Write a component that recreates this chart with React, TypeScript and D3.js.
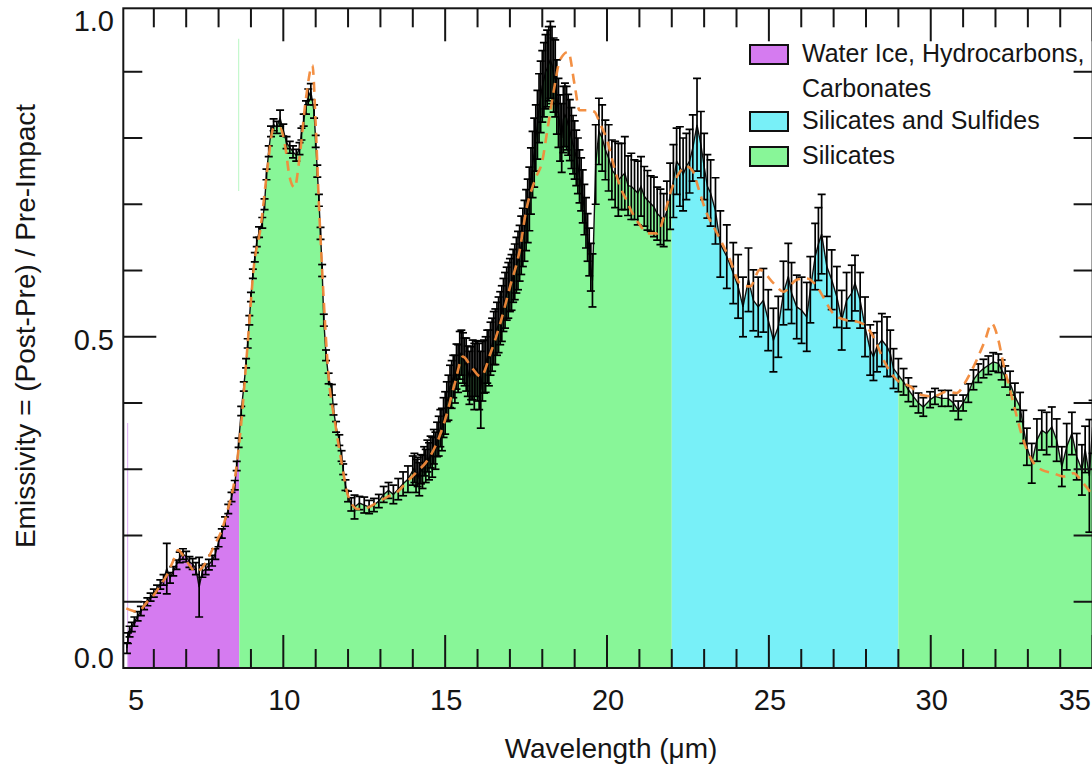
import React from 'react';
import * as d3 from 'd3';

type Pt = [number, number, number];

// [wavelength (µm), emissivity, 1-sigma error]
const spectrumShort: Pt[] = [
  [5.17, 0.030, 0.008], [5.20, 0.045, 0.008], [5.25, 0.055, 0.008], [5.32, 0.062, 0.007],
  [5.40, 0.070, 0.007], [5.50, 0.078, 0.007], [5.60, 0.086, 0.007], [5.70, 0.094, 0.006],
  [5.80, 0.100, 0.006], [5.90, 0.107, 0.006], [6.00, 0.113, 0.006], [6.10, 0.119, 0.006],
  [6.20, 0.126, 0.007], [6.30, 0.133, 0.008], [6.40, 0.150, 0.038], [6.50, 0.136, 0.008],
  [6.60, 0.146, 0.007], [6.70, 0.156, 0.007], [6.80, 0.167, 0.008], [6.90, 0.172, 0.008],
  [7.00, 0.168, 0.008], [7.10, 0.160, 0.008], [7.20, 0.157, 0.008], [7.30, 0.150, 0.009],
  [7.40, 0.122, 0.045], [7.50, 0.146, 0.009], [7.60, 0.149, 0.008], [7.70, 0.156, 0.008],
  [7.80, 0.162, 0.008], [7.90, 0.172, 0.008], [8.00, 0.190, 0.007], [8.10, 0.203, 0.007],
  [8.20, 0.221, 0.007], [8.30, 0.240, 0.007], [8.40, 0.258, 0.007], [8.50, 0.276, 0.007],
  [8.56, 0.305, 0.007], [8.62, 0.340, 0.007], [8.70, 0.388, 0.007], [8.78, 0.425, 0.007],
  [8.85, 0.460, 0.007], [8.90, 0.490, 0.007], [8.95, 0.525, 0.007], [9.00, 0.560, 0.007],
  [9.06, 0.595, 0.007], [9.12, 0.620, 0.007], [9.18, 0.643, 0.007], [9.25, 0.658, 0.008],
  [9.35, 0.672, 0.008], [9.42, 0.700, 0.008], [9.48, 0.745, 0.008], [9.55, 0.780, 0.008],
  [9.62, 0.810, 0.008], [9.70, 0.820, 0.009], [9.80, 0.816, 0.009], [9.90, 0.830, 0.012],
  [10.00, 0.812, 0.009], [10.10, 0.793, 0.009], [10.20, 0.786, 0.009], [10.30, 0.779, 0.009],
  [10.40, 0.774, 0.009], [10.50, 0.784, 0.009], [10.56, 0.806, 0.009], [10.63, 0.827, 0.009],
  [10.70, 0.846, 0.010], [10.77, 0.862, 0.012], [10.85, 0.870, 0.012], [10.95, 0.840, 0.010],
  [11.00, 0.795, 0.009], [11.05, 0.750, 0.009], [11.10, 0.706, 0.009], [11.15, 0.656, 0.009],
  [11.20, 0.600, 0.009], [11.25, 0.525, 0.009], [11.32, 0.472, 0.008], [11.40, 0.437, 0.008],
  [11.50, 0.420, 0.008], [11.55, 0.390, 0.008], [11.63, 0.364, 0.008], [11.73, 0.344, 0.008],
  [11.80, 0.320, 0.008], [11.85, 0.300, 0.008], [11.92, 0.276, 0.008], [12.00, 0.259, 0.008],
  [12.10, 0.247, 0.010], [12.20, 0.243, 0.018], [12.35, 0.249, 0.010], [12.50, 0.246, 0.012],
  [12.65, 0.243, 0.010], [12.80, 0.246, 0.010], [12.95, 0.252, 0.010], [13.10, 0.262, 0.012],
  [13.25, 0.268, 0.012], [13.40, 0.262, 0.014], [13.55, 0.270, 0.016], [13.70, 0.278, 0.018],
  [13.85, 0.285, 0.020], [14.00, 0.298, 0.022],
];

const spectrumMid: Pt[] = [
  [14.05, 0.302, 0.022], [14.10, 0.290, 0.025], [14.15, 0.296, 0.022], [14.20, 0.285, 0.025],
  [14.25, 0.300, 0.022], [14.30, 0.296, 0.025], [14.35, 0.312, 0.022], [14.40, 0.305, 0.025],
  [14.45, 0.320, 0.024], [14.50, 0.312, 0.028], [14.55, 0.326, 0.024], [14.60, 0.318, 0.030],
  [14.65, 0.334, 0.026], [14.70, 0.328, 0.028], [14.75, 0.345, 0.026], [14.80, 0.350, 0.030],
  [14.85, 0.362, 0.028], [14.90, 0.360, 0.032], [14.95, 0.378, 0.030], [15.00, 0.385, 0.032],
  [15.05, 0.402, 0.030], [15.10, 0.408, 0.034], [15.15, 0.425, 0.032], [15.20, 0.428, 0.036],
  [15.25, 0.440, 0.032], [15.30, 0.436, 0.036], [15.35, 0.455, 0.034], [15.40, 0.452, 0.036],
  [15.45, 0.472, 0.036], [15.50, 0.476, 0.034], [15.55, 0.468, 0.038], [15.60, 0.462, 0.036],
  [15.65, 0.458, 0.040], [15.70, 0.448, 0.038], [15.75, 0.438, 0.040], [15.80, 0.445, 0.040],
  [15.85, 0.450, 0.045], [15.90, 0.440, 0.050], [15.95, 0.452, 0.042], [16.00, 0.448, 0.045],
  [16.05, 0.440, 0.050], [16.10, 0.420, 0.058], [16.15, 0.448, 0.045], [16.20, 0.455, 0.040],
  [16.25, 0.458, 0.042], [16.30, 0.470, 0.040], [16.35, 0.468, 0.042], [16.40, 0.482, 0.040],
  [16.45, 0.488, 0.040], [16.50, 0.498, 0.040], [16.55, 0.500, 0.042], [16.60, 0.512, 0.040],
  [16.65, 0.518, 0.042], [16.70, 0.528, 0.040], [16.75, 0.535, 0.042], [16.80, 0.548, 0.040],
  [16.85, 0.555, 0.042], [16.90, 0.565, 0.040], [16.95, 0.570, 0.042], [17.00, 0.578, 0.040],
  [17.05, 0.582, 0.042], [17.10, 0.592, 0.040], [17.15, 0.598, 0.042], [17.20, 0.608, 0.042],
  [17.25, 0.615, 0.044], [17.30, 0.626, 0.042], [17.35, 0.638, 0.044], [17.40, 0.650, 0.044],
  [17.45, 0.660, 0.046], [17.50, 0.676, 0.046], [17.55, 0.690, 0.048], [17.60, 0.708, 0.048],
  [17.65, 0.735, 0.050], [17.70, 0.760, 0.050], [17.75, 0.778, 0.052], [17.80, 0.800, 0.050],
  [17.85, 0.820, 0.052], [17.90, 0.845, 0.052], [17.95, 0.862, 0.054], [18.00, 0.878, 0.054],
  [18.05, 0.888, 0.056], [18.10, 0.900, 0.056], [18.15, 0.905, 0.058], [18.20, 0.912, 0.056],
  [18.25, 0.918, 0.058], [18.30, 0.910, 0.058], [18.35, 0.895, 0.056], [18.40, 0.890, 0.058],
  [18.45, 0.862, 0.056], [18.50, 0.838, 0.052], [18.55, 0.815, 0.050], [18.60, 0.800, 0.052],
  [18.65, 0.828, 0.050], [18.70, 0.835, 0.048], [18.75, 0.830, 0.048], [18.80, 0.820, 0.046],
  [18.85, 0.812, 0.046], [18.90, 0.800, 0.046], [18.95, 0.790, 0.044], [19.00, 0.782, 0.044],
  [19.05, 0.770, 0.042], [19.10, 0.758, 0.042], [19.15, 0.742, 0.040], [19.20, 0.730, 0.040],
  [19.25, 0.712, 0.040], [19.30, 0.692, 0.038], [19.35, 0.672, 0.038], [19.40, 0.650, 0.036],
  [19.45, 0.628, 0.036], [19.50, 0.605, 0.036], [19.55, 0.585, 0.040],
];

const spectrumLong: Pt[] = [
  [19.65, 0.760, 0.060], [19.75, 0.810, 0.050], [19.85, 0.800, 0.050], [19.95, 0.782, 0.045],
  [20.05, 0.770, 0.050], [20.15, 0.752, 0.045], [20.25, 0.745, 0.050], [20.35, 0.737, 0.055],
  [20.45, 0.742, 0.050], [20.55, 0.747, 0.055], [20.65, 0.728, 0.045], [20.75, 0.727, 0.050],
  [20.85, 0.722, 0.045], [20.95, 0.717, 0.048], [21.05, 0.727, 0.045], [21.15, 0.712, 0.045],
  [21.25, 0.706, 0.045], [21.35, 0.701, 0.042], [21.45, 0.696, 0.045], [21.55, 0.686, 0.040],
  [21.65, 0.681, 0.042], [21.75, 0.676, 0.040], [21.85, 0.690, 0.045], [21.95, 0.712, 0.050],
  [22.05, 0.735, 0.055], [22.15, 0.765, 0.050], [22.25, 0.757, 0.060], [22.35, 0.745, 0.055],
  [22.45, 0.757, 0.050], [22.55, 0.765, 0.048], [22.65, 0.785, 0.050], [22.78, 0.820, 0.070],
  [22.90, 0.790, 0.050], [23.00, 0.757, 0.050], [23.10, 0.727, 0.048], [23.20, 0.717, 0.050],
  [23.35, 0.690, 0.050], [23.50, 0.640, 0.050], [23.70, 0.621, 0.048], [23.90, 0.596, 0.046],
  [24.05, 0.576, 0.048], [24.20, 0.545, 0.045], [24.37, 0.586, 0.048], [24.52, 0.555, 0.046],
  [24.67, 0.545, 0.045], [24.83, 0.555, 0.048], [24.98, 0.525, 0.046], [25.14, 0.495, 0.048],
  [25.29, 0.515, 0.046], [25.45, 0.566, 0.048], [25.60, 0.591, 0.050], [25.70, 0.566, 0.046],
  [25.86, 0.545, 0.048], [26.01, 0.540, 0.050], [26.17, 0.530, 0.052], [26.28, 0.571, 0.050],
  [26.43, 0.621, 0.050], [26.53, 0.640, 0.055], [26.63, 0.655, 0.060], [26.79, 0.606, 0.045],
  [26.94, 0.586, 0.045], [27.10, 0.560, 0.046], [27.25, 0.525, 0.045], [27.40, 0.555, 0.042],
  [27.56, 0.566, 0.042], [27.66, 0.581, 0.042], [27.82, 0.555, 0.042], [27.97, 0.515, 0.045],
  [28.13, 0.480, 0.038], [28.23, 0.470, 0.036], [28.34, 0.485, 0.038], [28.49, 0.495, 0.040],
  [28.65, 0.485, 0.045], [28.75, 0.475, 0.035], [28.85, 0.452, 0.030], [29.00, 0.442, 0.025],
  [29.16, 0.432, 0.020], [29.31, 0.420, 0.018], [29.46, 0.410, 0.015], [29.62, 0.400, 0.015],
  [29.77, 0.394, 0.014], [29.98, 0.405, 0.012], [30.13, 0.410, 0.012], [30.34, 0.407, 0.012],
  [30.54, 0.407, 0.012], [30.70, 0.400, 0.012], [30.85, 0.389, 0.014], [31.00, 0.400, 0.012],
  [31.16, 0.415, 0.014], [31.32, 0.435, 0.015], [31.47, 0.445, 0.014], [31.63, 0.452, 0.014],
  [31.78, 0.457, 0.014], [31.93, 0.462, 0.014], [32.09, 0.460, 0.014], [32.19, 0.450, 0.015],
  [32.30, 0.440, 0.016], [32.45, 0.430, 0.018], [32.60, 0.410, 0.020], [32.76, 0.394, 0.022],
  [32.86, 0.364, 0.025], [32.97, 0.334, 0.028], [33.12, 0.309, 0.030], [33.28, 0.344, 0.032],
  [33.43, 0.359, 0.030], [33.58, 0.354, 0.032], [33.74, 0.364, 0.030], [33.89, 0.344, 0.032],
  [34.05, 0.304, 0.030], [34.20, 0.334, 0.035], [34.36, 0.354, 0.032], [34.51, 0.319, 0.035],
  [34.67, 0.299, 0.038], [34.77, 0.330, 0.035], [34.90, 0.290, 0.085], [35.00, 0.364, 0.040],
];

// model fit [wavelength, emissivity]
const modelCurve: [number, number][] = [
  [5.15, 0.090], [5.5, 0.085], [5.8, 0.100], [6.0, 0.110], [6.2, 0.125], [6.4, 0.140],
  [6.6, 0.162], [6.75, 0.178], [6.9, 0.170], [7.1, 0.155], [7.3, 0.145], [7.5, 0.152],
  [7.7, 0.168], [7.9, 0.188], [8.1, 0.208], [8.3, 0.242], [8.5, 0.285], [8.7, 0.370],
  [8.9, 0.490], [9.1, 0.610], [9.3, 0.665], [9.5, 0.750], [9.7, 0.815], [9.9, 0.815],
  [10.05, 0.790], [10.2, 0.740], [10.35, 0.725], [10.5, 0.770], [10.7, 0.860], [10.9, 0.910],
  [11.0, 0.820], [11.1, 0.700], [11.2, 0.600], [11.4, 0.440], [11.6, 0.370], [11.8, 0.310],
  [12.0, 0.260], [12.3, 0.240], [12.6, 0.242], [12.9, 0.250], [13.2, 0.258], [13.5, 0.265],
  [13.8, 0.280], [14.1, 0.295], [14.4, 0.310], [14.7, 0.335], [15.0, 0.375], [15.3, 0.430],
  [15.55, 0.470], [15.8, 0.455], [16.1, 0.440], [16.4, 0.475], [16.7, 0.520], [17.0, 0.575],
  [17.3, 0.630], [17.5, 0.690], [17.8, 0.740], [18.0, 0.765], [18.15, 0.810], [18.35, 0.870],
  [18.55, 0.918], [18.8, 0.930], [19.0, 0.880], [19.15, 0.842], [19.4, 0.842], [19.6, 0.840],
  [19.8, 0.820], [20.0, 0.797], [20.2, 0.760], [20.4, 0.727], [20.6, 0.706], [20.8, 0.685],
  [21.0, 0.670], [21.25, 0.656], [21.55, 0.656], [21.75, 0.680], [21.95, 0.716], [22.2, 0.745],
  [22.45, 0.757], [22.65, 0.750], [22.85, 0.720], [23.05, 0.690], [23.4, 0.656], [23.8, 0.616],
  [24.1, 0.581], [24.42, 0.576], [24.72, 0.601], [25.14, 0.581], [25.45, 0.568], [25.86, 0.586],
  [26.17, 0.588], [26.48, 0.576], [26.68, 0.560], [26.99, 0.535], [27.4, 0.525], [27.71, 0.523],
  [28.02, 0.515], [28.28, 0.495], [28.54, 0.465], [28.95, 0.435], [29.36, 0.425], [29.72, 0.412],
  [30.08, 0.410], [30.49, 0.417], [30.8, 0.415], [31.11, 0.435], [31.42, 0.465], [31.68, 0.495],
  [31.88, 0.520], [32.09, 0.495], [32.24, 0.460], [32.45, 0.420], [32.66, 0.379], [32.86, 0.344],
  [33.12, 0.314], [33.43, 0.299], [33.79, 0.294], [34.1, 0.289], [34.41, 0.294], [34.71, 0.279],
  [34.95, 0.264],
];

// composition categories and wavelength regions
const legendLabels: string[][] = [['Water Ice, Hydrocarbons,', 'Carbonates'], ['Silicates and Sulfides'], ['Silicates']];
const regionStart = [5.0, 8.64, 22.0, 29.0];
const regionEnd = [8.64, 22.0, 29.0, 35.5];
const regionCategory = [0, 2, 1, 2];
// faint vertical strokes [wavelength, from, to]
const faintStrokes: [number, number, number, number][] = [[5.19, 0.0, 0.37, 0], [8.62, 0.72, 0.95, 2]];

const xMajorTicks = [5, 10, 15, 20, 25, 30, 35];
const xMinorTicks = [6, 7, 8, 9, 11, 12, 13, 14, 16, 17, 18, 19, 21, 22, 23, 24, 26, 27, 28, 29, 31, 32, 33, 34];
const yMajorTicks = [0, 0.5, 1.0];
const yTickLabels = ['0.0', '0.5', '1.0'];
const yMinorTicks = [0.1, 0.2, 0.3, 0.4, 0.6, 0.7, 0.8, 0.9];

const FILL = ['#d57bf0', '#78f0f8', '#88f698'];
const FAINT = ['#e2b8f6', '#bff4fa', '#c4f8cc'];
const FONT = '"Liberation Sans", Arial, Helvetica, sans-serif';
const INK = '#151515';

export default function App() {
  const W = 1092, H = 767;
  const left = 123.3, right = 1092.6, top = 8.3, bottom = 668;
  const x = d3.scaleLinear().domain([5.057, 35]).range([left, right]);
  const y = d3.scaleLinear().domain([0, 0.9958]).range([bottom, top]);

  const data: Pt[] = [...spectrumShort, ...spectrumMid, ...spectrumLong];
  const area = d3.area<Pt>().x(d => x(d[0])).y0(y(0)).y1(d => y(d[1]));
  const dataLine = d3.line<Pt>().x(d => x(d[0])).y(d => y(d[1]));
  const modelLine = d3.line<[number, number]>().x(d => x(d[0])).y(d => y(d[1])).curve(d3.curveMonotoneX);
  const areaPath = area(data) || '';

  const minorLen = 19, majorLen = 33;
  const capHalf = 4;

  const xTickAll = [...xMajorTicks.map(t => ({ t, major: true })), ...xMinorTicks.map(t => ({ t, major: false }))]
    .filter(d => x(d.t) >= left - 0.5);
  const yTickAll = [...yMajorTicks.map(t => ({ t, major: true })), ...yMinorTicks.map(t => ({ t, major: false }))]
    .filter(d => d.t > 0 && d.t < 0.99);

  return (
    <svg width={W} height={H} viewBox={`0 0 ${W} ${H}`}
      style={{ position: 'absolute', left: 0, top: 0, display: 'block', background: '#fff' }}>
      <defs>
        {regionStart.map((s, i) => (
          <clipPath id={`reg${i}`} key={i}>
            <rect x={x(s)} y={0} width={x(regionEnd[i]) - x(s)} height={H} />
          </clipPath>
        ))}
        <clipPath id="plotClip">
          <rect x={left} y={top} width={right - left} height={bottom - top} />
        </clipPath>
      </defs>
      <rect x={0} y={0} width={W} height={H} fill="#fff" />

      <g clipPath="url(#plotClip)">
        {regionStart.map((s, i) => (
          <path key={i} d={areaPath} fill={FILL[regionCategory[i]]} clipPath={`url(#reg${i})`} />
        ))}
        {faintStrokes.map((f, i) => (
          <line key={i} x1={x(f[0])} x2={x(f[0])} y1={y(f[1])} y2={y(f[2])} stroke={FAINT[f[3]]} strokeWidth={1.2} />
        ))}
        <path d={dataLine(data) || ''} fill="none" stroke="#111" strokeWidth={1.4} />
        <g stroke="#000" strokeWidth={1.7}>
          {data.map((d, i) => {
            const px = x(d[0]);
            const y1 = y(d[1] - d[2]);
            const y2 = y(d[1] + d[2]);
            return (
              <g key={i}>
                <line x1={px} x2={px} y1={y1} y2={y2} />
                <line x1={px - capHalf} x2={px + capHalf} y1={y1} y2={y1} />
                <line x1={px - capHalf} x2={px + capHalf} y1={y2} y2={y2} />
              </g>
            );
          })}
        </g>
        <path d={modelLine(modelCurve) || ''} fill="none" stroke="#f28a3a" strokeWidth={2.6}
          strokeDasharray="10 7" strokeOpacity={0.95} />
      </g>

      {/* frame */}
      <rect x={left} y={top} width={right - left} height={bottom - top} fill="none" stroke={INK} strokeWidth={2} />
      <g stroke={INK} strokeWidth={2}>
        {xTickAll.map((d, i) => {
          const len = d.major ? majorLen : minorLen;
          const px = x(d.t);
          return (
            <g key={i}>
              <line x1={px} x2={px} y1={bottom} y2={bottom - len} />
              <line x1={px} x2={px} y1={top} y2={top + len} />
            </g>
          );
        })}
        {yTickAll.map((d, i) => {
          const len = d.major ? majorLen : minorLen;
          const py = y(d.t);
          return (
            <g key={i}>
              <line x1={left} x2={left + len} y1={py} y2={py} />
              <line x1={right} x2={right - len} y1={py} y2={py} />
            </g>
          );
        })}
      </g>

      {/* tick labels */}
      <g fontFamily={FONT} fontSize={29} fill={INK}>
        {xMajorTicks.map((t, i) => {
          const first = i === 0, last = i === xMajorTicks.length - 1;
          const px = first ? 128 : last ? 1091 : x(t) + 1;
          return (
            <text key={t} x={px} y={710} textAnchor={first ? 'start' : last ? 'end' : 'middle'}>{t}</text>
          );
        })}
        {yMajorTicks.map((t, i) => {
          const py = t === 0 ? y(t) : t >= 1 ? y(t) + 25 : y(t) + 13.5;
          return (
            <text key={t} x={114} y={py} textAnchor="end">{yTickLabels[i]}</text>
          );
        })}
      </g>

      {/* axis titles */}
      <text x={611} y={758} textAnchor="middle" fontFamily={FONT} fontSize={28} fill={INK}>
        Wavelength (μm)
      </text>
      <text transform="translate(35,326) rotate(-90)" textAnchor="middle" fontFamily={FONT} fontSize={28} fill={INK}>
        Emissivity = (Post-Pre) / Pre-Impact
      </text>

      {/* legend */}
      <g fontFamily={FONT} fontSize={25} fill={INK}>
        {[
          { cat: 0, y0: 45 },
          { cat: 1, y0: 112 },
          { cat: 2, y0: 147 },
        ].map(({ cat, y0 }) => (
          <g key={cat}>
            <rect x={750} y={y0} width={38} height={19} fill={FILL[cat]} stroke="#111" strokeWidth={2} />
            {legendLabels[cat].map((line, j) => (
              <text key={j} x={802} y={y0 + 17 + j * 35}>{line}</text>
            ))}
          </g>
        ))}
      </g>
    </svg>
  );
}
